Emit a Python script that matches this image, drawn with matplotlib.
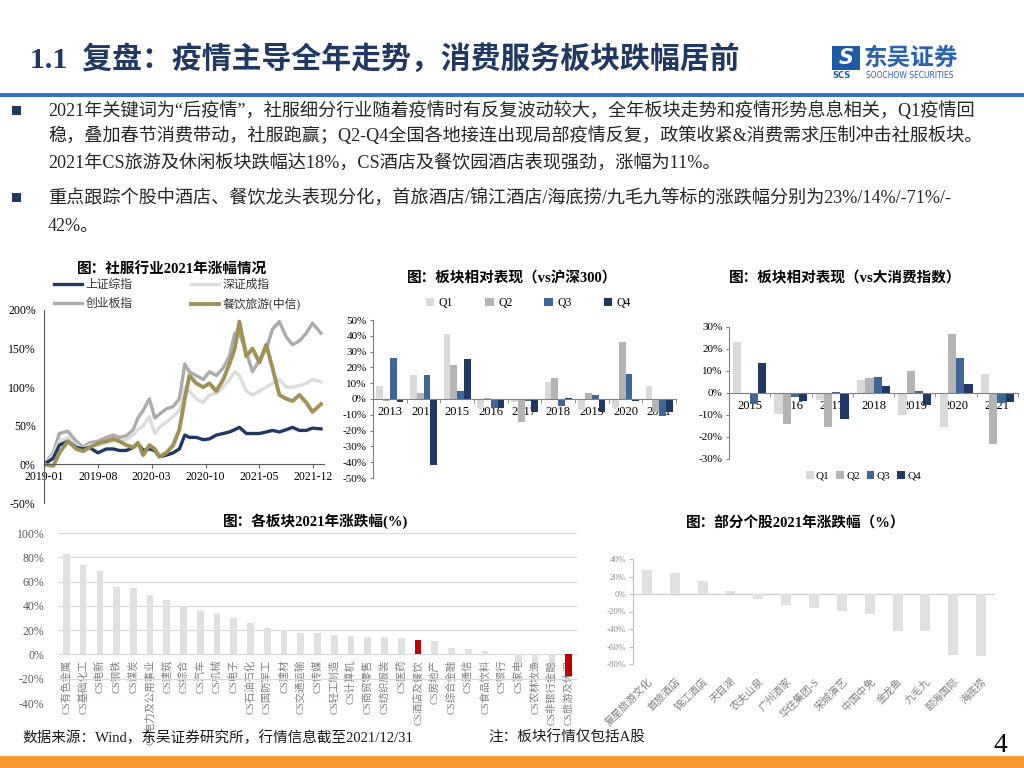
import matplotlib
matplotlib.use('Agg')
import matplotlib.pyplot as plt
from matplotlib.patches import Rectangle

# ---- data ----
# top-left: cumulative change since 2019-01 (%), x in months from 2019-01
months = [0, 1.2, 2, 3.1, 4.2, 5.1, 5.9, 7, 8.1, 9, 9.8, 10.7, 11.6, 12.2, 12.9,
          13.7, 14.4, 15, 15.9, 16.8, 17.6, 18.3, 18.9, 19.8, 20.7, 21.5, 22.4,
          23.3, 24.1, 24.8, 25.4, 26.3, 27.1, 28, 28.9, 29.7, 30.6, 31.5, 32.3,
          33.2, 34.1, 34.9, 36]
sh_idx = [0, 8, 25, 30, 22, 20, 22, 15, 20, 20, 18, 18, 22, 27, 18, 20, 18, 10, 12,
          15, 20, 38, 35, 35, 32, 33, 38, 40, 42, 45, 48, 40, 40, 40, 42, 44, 42, 45,
          48, 44, 44, 47, 46]
sz_idx = [0, 12, 30, 35, 25, 20, 25, 25, 28, 30, 30, 32, 38, 45, 50, 62, 40, 48, 55,
          62, 70, 100, 95, 85, 80, 90, 92, 100, 110, 120, 115, 95, 90, 95, 100, 105,
          110, 100, 100, 102, 105, 110, 107]
cyb_idx = [0, 15, 40, 43, 30, 22, 28, 30, 35, 38, 35, 37, 45, 60, 70, 85, 60, 65, 72,
           75, 85, 130, 120, 115, 110, 120, 115, 125, 140, 170, 170, 145, 120, 135,
           150, 175, 185, 165, 155, 160, 170, 183, 170]
cy_idx = [0, -2, 15, 30, 20, 17, 22, 27, 30, 33, 30, 25, 22, 28, 12, 25, 20, 10, 15,
          25, 45, 85, 115, 105, 100, 105, 95, 110, 130, 150, 185, 140, 150, 132, 155,
          125, 90, 85, 82, 90, 80, 68, 78]
line_ticks = [0, 7, 14, 21, 28, 35]
line_tick_labels = ['2019-01', '2019-08', '2020-03', '2020-10', '2021-05', '2021-12']

# middle: relative to CSI300 (%)
years_hs = ['2013', '2014', '2015', '2016', '2017', '2018', '2019', '2020', '2021']
q1_hs = [8, 15, 41, -6, -2, 10.5, -7, -6, 8]
q2_hs = [-1, 4, 21.5, 0.5, -14.5, 13, 3.5, 36, -8]
q3_hs = [26, 15, 5, -6, -1, -4.5, 2.5, 16, -11]
q4_hs = [-2, -42, 25.5, -6, -8, 0.5, -8, -1, -8]

# right: relative to consumer index (%)
years_xf = ['2015', '2016', '2017', '2018', '2019', '2020', '2021']
q1_xf = [23, -9.5, -3, 6, -10, -15.5, 8.5]
q2_xf = [0, -14, -15.5, 7, 10, 27, -23]
q3_xf = [-5, -2, 0.5, 7.5, 1, 16, -4.5]
q4_xf = [13.5, -3.5, -12, 3, -5.5, 4, -4]

# bottom-left: sector change 2021 (%)
sectors = ['CS有色金属', 'CS基础化工', 'CS电新', 'CS钢铁', 'CS煤炭', 'CS电力及公用事业',
           'CS建筑', 'CS综合', 'CS汽车', 'CS机械', 'CS电子', 'CS石油石化', 'CS国防军工',
           'CS建材', 'CS交通运输', 'CS传媒', 'CS轻工制造', 'CS计算机', 'CS商贸零售',
           'CS纺织服装', 'CS医药', 'CS酒店及餐饮', 'CS房地产', 'CS综合金融', 'CS通信',
           'CS食品饮料', 'CS银行', 'CS家电', 'CS农林牧渔', 'CS非银行金融', 'CS旅游及休闲']
sector_chg = [83, 74, 68.5, 55.5, 54.5, 49, 45, 39.5, 36, 34, 30, 26, 21.5, 20.5, 18,
              17.5, 16, 15.3, 14.4, 14.4, 13.3, 12.2, 11, 5, 4.2, 2.5, -0.3, -7, -7, -7, -18]
highlight = ['CS酒店及餐饮', 'CS旅游及休闲']

# bottom-right: stocks change 2021 (%)
stocks = ['复星旅游文化', '首旅酒店', '锦江酒店', '天目湖', '农夫山泉', '广州酒家',
          '华住集团-S', '宋城演艺', '中国中免', '金龙鱼', '九毛九', '颐海国际', '海底捞']
stock_chg = [28, 23.5, 14.5, 3, -6, -12.5, -16.5, -19.5, -22.5, -42, -42, -69.5, -71]

# ---- style ----
W, H = 1024, 768
plt.rcParams['font.family'] = ['Liberation Serif', 'Noto Sans CJK SC', 'DejaVu Sans']
plt.rcParams['axes.unicode_minus'] = False

navy = '#1f3864'
q_colors = ['#d9d9d9', '#b4b4b4', '#3f6699', '#1f3864']
q_names = ['Q1', 'Q2', 'Q3', 'Q4']
axis_gray = '#808080'

fig = plt.figure(figsize=(10.24, 7.68), dpi=100)


def box(l, t, r, b):
    return [l / W, 1 - b / H, (r - l) / W, (b - t) / H]


def ftext(x, y, s, **kw):
    fig.text(x / W, 1 - y / H, s, **kw)


def frect(l, t, r, b, color, z=1):
    fig.add_artist(Rectangle((l / W, 1 - b / H), (r - l) / W, (b - t) / H,
                             transform=fig.transFigure, color=color, lw=0, zorder=z))


def pct(vals):
    return ['%d%%' % v for v in vals]


# ---- header ----
ftext(30, 60, '1.1  复盘：疫情主导全年走势，消费服务板块跌幅居前', fontsize=21.5,
      weight='bold', color=navy, va='center')
frect(0, 93, 1024, 97, '#2f75c4')
frect(832, 46, 860, 70, '#1f5aa6')
ftext(846, 58, 'S', fontsize=15, weight='bold', style='italic', color='white',
      ha='center', va='center', family='DejaVu Sans')
ftext(832, 76, 'SCS', fontsize=6, weight='bold', color='#1f5aa6', va='center',
      family='DejaVu Sans')
ftext(864, 58, '东吴证券', fontsize=17, weight='bold', color='#2a62b0', va='center',
      family=['Noto Sans CJK SC'])
ftext(866, 76, 'SOOCHOW SECURITIES', fontsize=5.5, color='#2a62b0', va='center',
      family='DejaVu Sans')

# ---- body text ----
body = [
    (111, '2021年关键词为“后疫情”，社服细分行业随着疫情时有反复波动较大，全年板块走势和疫情形势息息相关，Q1疫情回'),
    (136, '稳，叠加春节消费带动，社服跑赢；Q2-Q4全国各地接连出现局部疫情反复，政策收紧&消费需求压制冲击社服板块。'),
    (163, '2021年CS旅游及休闲板块跌幅达18%，CS酒店及餐饮园酒店表现强劲，涨幅为11%。'),
    (199, '重点跟踪个股中酒店、餐饮龙头表现分化，首旅酒店/锦江酒店/海底捞/九毛九等标的涨跌幅分别为23%/14%/-71%/-'),
    (227, '42%。'),
]
for y, s in body:
    ftext(48, y, s, fontsize=13.1, color='#262626', va='center')
frect(12, 106, 21, 115, navy)
frect(12, 193, 21, 202, navy)

# ---- top-left line chart ----
ax1 = fig.add_axes(box(44, 310, 324, 503))
ax1.spines[['top', 'right']].set_visible(False)
ax1.spines['bottom'].set_position(('data', 0))
ax1.plot(months, cyb_idx, color='#ababab', lw=2.4, label='创业板指')
ax1.plot(months, sz_idx, color='#dcdcdc', lw=2.4, label='深证成指')
ax1.plot(months, sh_idx, color=navy, lw=2.4, label='上证综指')
ax1.plot(months, cy_idx, color='#a09257', lw=2.8, label='餐饮旅游(中信)')
ax1.set_xlim(0, 36.4)
ax1.set_ylim(-50, 200)
ax1.set_xticks(line_ticks, line_tick_labels)
ax1.set_yticks([-50, 0, 50, 100, 150, 200], pct([-50, 0, 50, 100, 150, 200]))
for s in ['left', 'bottom']:
    ax1.spines[s].set_color('#595959')
    ax1.spines[s].set_linewidth(0.8)
ax1.tick_params(axis='x', length=3, color='#595959', labelsize=8.5, pad=2)
ax1.tick_params(axis='y', length=0, labelsize=8.5, pad=6)
ax1.patch.set_alpha(0)
h = {l.get_label(): l for l in ax1.get_lines()}
# ncol=2 fills column by column
order = ['上证综指', '创业板指', '深证成指', '餐饮旅游(中信)']
ax1.legend([h[k] for k in order], order, loc='upper left', ncol=2,
           bbox_to_anchor=(54 / W, 1 - 279 / H), bbox_transform=fig.transFigure,
           frameon=False, fontsize=8.5, handlelength=2.4, handletextpad=0.3,
           columnspacing=4.9, labelspacing=0.6, borderpad=0, borderaxespad=0,
           labelcolor='#333333')
ftext(172, 270, '图：社服行业2021年涨幅情况', fontsize=10.5, weight='bold',
      ha='center', va='center')


def grouped(ax, cats, series, lim, step):
    n = len(cats)
    ax.spines[['top', 'right']].set_visible(False)
    ax.spines['bottom'].set_position(('data', 0))
    for k, vals in enumerate(series):
        ax.bar([i + (k - 1.5) * 0.2 for i in range(n)], vals, width=0.2,
               color=q_colors[k], label=q_names[k], zorder=2)
    ax.set_xlim(-0.5, n - 0.5)
    ax.set_ylim(-lim, lim)
    ticks = list(range(-lim, lim + 1, step))
    ax.set_yticks(ticks, pct(ticks))
    ax.set_xticks(range(n), cats)
    ax.set_xticks([i - 0.5 for i in range(n + 1)], minor=True)
    for s in ['left', 'bottom']:
        ax.spines[s].set_color(axis_gray)
        ax.spines[s].set_linewidth(0.8)
    ax.tick_params(axis='x', which='major', length=0, labelsize=9, pad=5)
    ax.tick_params(axis='x', which='minor', length=3, color=axis_gray)
    ax.tick_params(axis='y', length=2.5, color=axis_gray, labelsize=8, pad=2)
    ax.patch.set_alpha(0)


# ---- middle chart ----
ax2 = fig.add_axes(box(373, 320, 676, 478))
grouped(ax2, years_hs, [q1_hs, q2_hs, q3_hs, q4_hs], 50, 10)
ax2.legend(loc='upper left', ncol=4, bbox_to_anchor=(426 / W, 1 - 297 / H),
           bbox_transform=fig.transFigure, frameon=False, fontsize=8.5,
           handlelength=0.7, handleheight=0.7, handletextpad=0.4,
           columnspacing=2.7, borderpad=0, borderaxespad=0)
ftext(512, 278, '图：板块相对表现（vs沪深300）', fontsize=10.5, weight='bold',
      ha='center', va='center')

# ---- right chart ----
ax3 = fig.add_axes(box(729, 327, 1018, 459))
grouped(ax3, years_xf, [q1_xf, q2_xf, q3_xf, q4_xf], 30, 10)
ax3.legend(loc='upper left', ncol=4, bbox_to_anchor=(806 / W, 1 - 471 / H),
           bbox_transform=fig.transFigure, frameon=False, fontsize=8,
           handlelength=0.7, handleheight=0.7, handletextpad=0.2,
           columnspacing=0.6, borderpad=0, borderaxespad=0)
ftext(845, 278, '图：板块相对表现（vs大消费指数）', fontsize=10.5, weight='bold',
      ha='center', va='center')

# ---- bottom-left chart ----
ax4 = fig.add_axes(box(58, 533, 577, 703))
for s in ax4.spines.values():
    s.set_visible(False)
ax4.spines['bottom'].set_position(('data', 0))
colors4 = ['#c00000' if s in highlight else '#e0e0e0' for s in sectors]
ax4.bar(range(len(sectors)), sector_chg, width=0.4, color=colors4, zorder=2)
ax4.set_xlim(-0.5, len(sectors) - 0.5)
ax4.set_ylim(-40, 100)
yt4 = [-40, -20, 0, 20, 40, 60, 80, 100]
ax4.set_yticks(yt4, pct(yt4))
ax4.yaxis.grid(True, color='#d9d9d9', lw=0.9)
ax4.set_axisbelow(True)
ax4.set_xticks(range(len(sectors)), sectors, rotation=90)
ax4.tick_params(axis='x', length=0, labelsize=7.5, labelcolor='#7f7f7f', pad=4)
ax4.tick_params(axis='y', length=0, labelsize=8.5, labelcolor='#595959', pad=10)
for lbl in ax4.get_xticklabels():
    lbl.set_zorder(5)
ax4.patch.set_alpha(0)
ftext(316, 521, '图：各板块2021年涨跌幅(%)', fontsize=10.5, weight='bold',
      ha='center', va='center')

# ---- bottom-right chart ----
ax5 = fig.add_axes(box(633, 559, 995, 664))
ax5.spines[['top', 'right', 'bottom']].set_visible(False)
ax5.bar(range(len(stocks)), stock_chg, width=0.36, color='#e0e0e0', zorder=2)
ax5.axhline(0, color='#d0d0d0', lw=1, zorder=1)
ax5.set_xlim(-0.5, len(stocks) - 0.5)
ax5.set_ylim(-80, 40)
yt5 = [-80, -60, -40, -20, 0, 20, 40]
ax5.set_yticks(yt5, pct(yt5))
ax5.set_xticks(range(len(stocks)), stocks, rotation=45, ha='right',
               rotation_mode='anchor')
ax5.spines['left'].set_color('#bfbfbf')
ax5.tick_params(axis='x', length=0, labelsize=7.5, labelcolor='#7f7f7f', pad=9)
ax5.tick_params(axis='y', length=3, color='#bfbfbf', labelsize=6.5,
                labelcolor='#8c8c8c', pad=2)
ax5.patch.set_alpha(0)
ftext(796, 523, '图：部分个股2021年涨跌幅（%）', fontsize=10.5, weight='bold',
      ha='center', va='center')

# ---- footer ----
ftext(22, 738, '数据来源：Wind，东吴证券研究所，行情信息截至2021/12/31', fontsize=10.5,
      color='#1a1a1a', va='center')
ftext(488, 738, '注：板块行情仅包括A股', fontsize=10.5, color='#1a1a1a', va='center')
frect(0, 756, 1024, 768, '#f7992f')
ftext(1000, 746, '4', fontsize=20, ha='center', va='center', zorder=5)

fig.savefig('out.png', dpi=100)
